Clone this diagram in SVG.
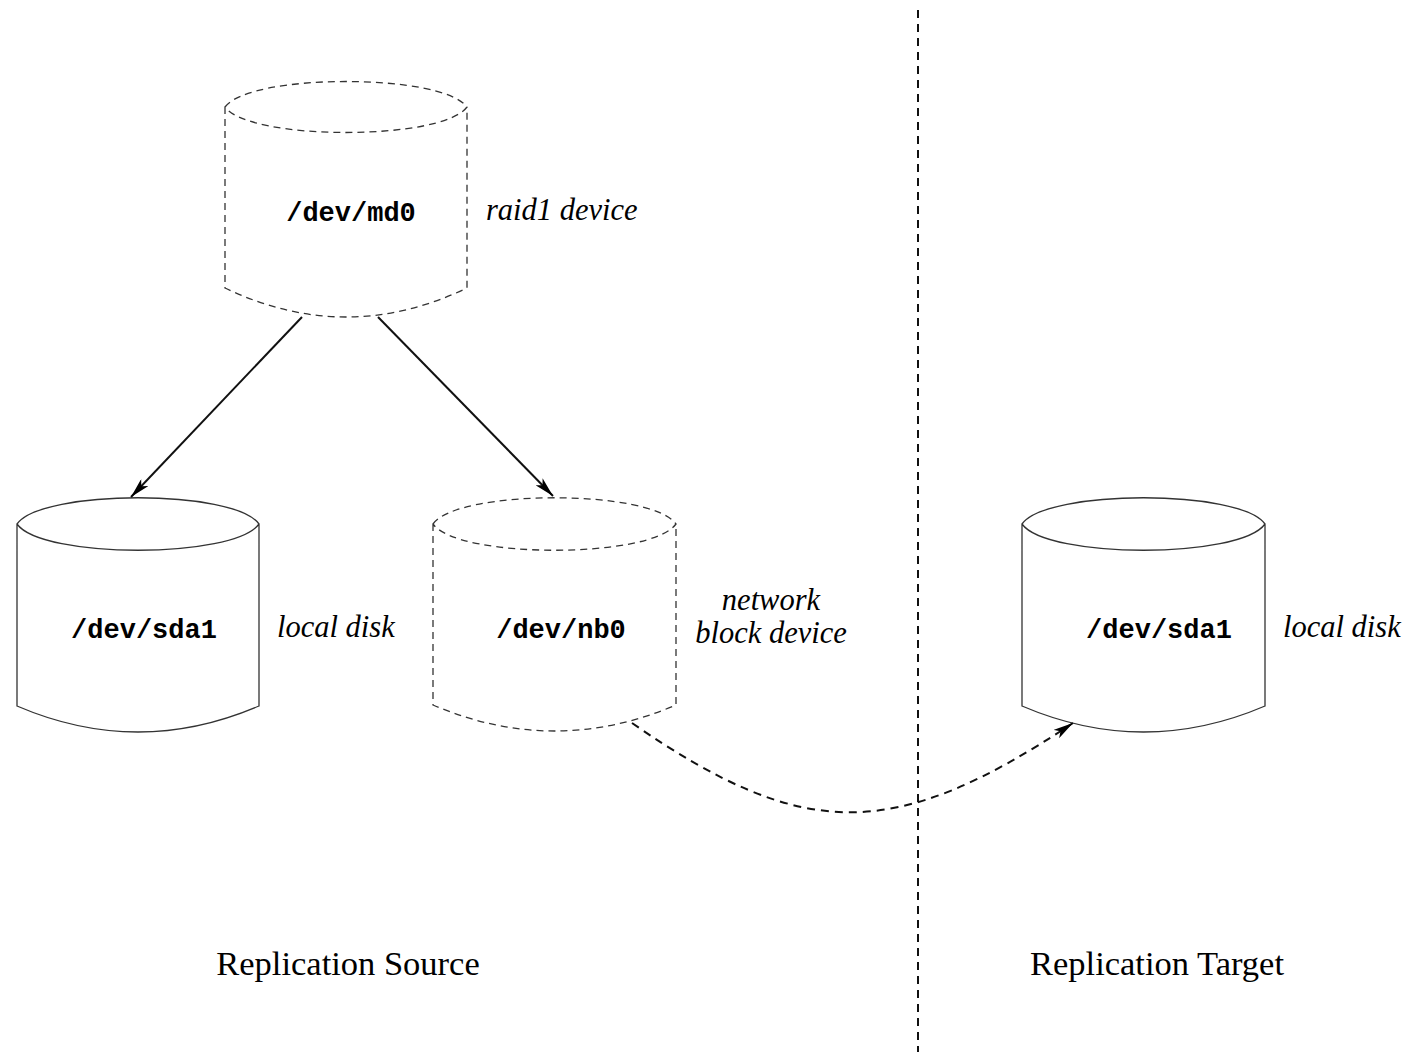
<svg xmlns="http://www.w3.org/2000/svg" width="1410" height="1052" viewBox="0 0 1410 1052">
<style>
.cyl{fill:none;stroke:#333;stroke-width:1.3}
.dash{stroke-dasharray:7 5}
.mono{font-family:"Liberation Mono","DejaVu Sans Mono",monospace;font-weight:bold;font-size:27px;fill:#000;text-anchor:middle}
.lab{font-family:"Liberation Serif","Times New Roman",serif;font-style:italic;font-size:30.5px;fill:#000}
.big{font-family:"Liberation Serif","Times New Roman",serif;font-size:34.5px;fill:#000;text-anchor:middle}
.conn{fill:none;stroke:#111;stroke-width:2}
</style>
<defs>
<marker id="arr" viewBox="0 0 20 10" refX="20" refY="5" markerWidth="20" markerHeight="10" markerUnits="userSpaceOnUse" orient="auto">
<path d="M0,0 L20,5 L0,10 L5,5 z" fill="#000"/>
</marker>
</defs>
<rect width="1410" height="1052" fill="#fff"/>
<line x1="918" y1="10" x2="918" y2="1052" stroke="#111" stroke-width="2" stroke-dasharray="8 6"/>
<g id="md0">
<path class="cyl dash" d="M225,107 C250,73 442,73 467,107 C442,141 250,141 225,107 Z M225,107 V288 Q346,346 467,288 V107"/>
<text class="mono" x="351" y="221">/dev/md0</text>
<text class="lab" x="486" y="220">raid1 device</text>
</g>
<g id="sda1-source">
<path class="cyl" d="M17,524 C42,489 234,489 259,524 C234,559 42,559 17,524 Z M17,524 V706 Q138,758 259,706 V524"/>
<text class="mono" x="144" y="638">/dev/sda1</text>
<text class="lab" x="277" y="637">local disk</text>
</g>
<g id="nb0">
<path class="cyl dash" d="M433,524 C458,489 651,489 676,524 C651,559 458,559 433,524 Z M433,524 V705 Q554.5,757 676,705 V524"/>
<text class="mono" x="561" y="638">/dev/nb0</text>
<text class="lab" x="771" y="610" text-anchor="middle">network</text>
<text class="lab" x="771" y="643" text-anchor="middle">block device</text>
</g>
<g id="sda1-target">
<path class="cyl" d="M1022,524 C1047,489 1240,489 1265,524 C1240,559 1047,559 1022,524 Z M1022,524 V706 Q1143.5,758 1265,706 V524"/>
<text class="mono" x="1159" y="638">/dev/sda1</text>
<text class="lab" x="1283" y="637">local disk</text>
</g>
<g id="connectors">
<line class="conn" x1="302" y1="317" x2="131" y2="497" marker-end="url(#arr)"/>
<line class="conn" x1="378" y1="317" x2="553" y2="496" marker-end="url(#arr)"/>
<path class="conn" d="M632,723 C804,842 894,842 1073,723" stroke-dasharray="8 6" marker-end="url(#arr)"/>
</g>
<text class="big" x="348" y="975">Replication Source</text>
<text class="big" x="1157" y="975">Replication Target</text>
</svg>
